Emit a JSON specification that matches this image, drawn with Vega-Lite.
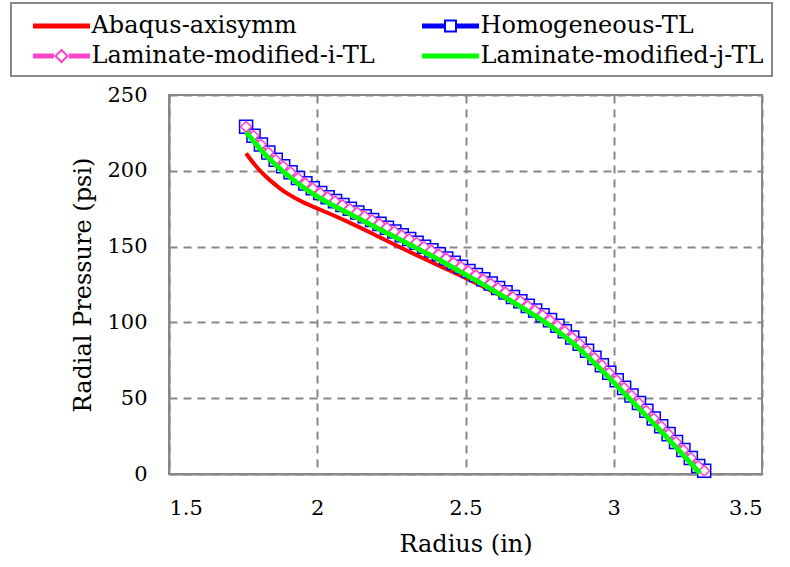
{
  "$schema": "https://vega.github.io/schema/vega-lite/v6.json",
  "width": 593,
  "height": 379,
  "autosize": {"type": "none"},
  "padding": {"left": 169, "top": 95, "right": 28, "bottom": 93},
  "view": {"stroke": "#888888", "strokeWidth": 2},
  "config": {"font": "DejaVu Serif"},
  "data": {"values": [
    {"series": "Abaqus-axisymm", "r": 1.76, "p": 211.5},
    {"series": "Abaqus-axisymm", "r": 1.78, "p": 206.3},
    {"series": "Abaqus-axisymm", "r": 1.80, "p": 201.5},
    {"series": "Abaqus-axisymm", "r": 1.825, "p": 196.6},
    {"series": "Abaqus-axisymm", "r": 1.85, "p": 192.2},
    {"series": "Abaqus-axisymm", "r": 1.875, "p": 188.3},
    {"series": "Abaqus-axisymm", "r": 1.90, "p": 184.9},
    {"series": "Abaqus-axisymm", "r": 1.925, "p": 182},
    {"series": "Abaqus-axisymm", "r": 1.95, "p": 179.5},
    {"series": "Abaqus-axisymm", "r": 2.00, "p": 175.2},
    {"series": "Abaqus-axisymm", "r": 2.05, "p": 171},
    {"series": "Abaqus-axisymm", "r": 2.10, "p": 166.6},
    {"series": "Abaqus-axisymm", "r": 2.15, "p": 162},
    {"series": "Abaqus-axisymm", "r": 2.20, "p": 157.2},
    {"series": "Abaqus-axisymm", "r": 2.25, "p": 152.4},
    {"series": "Abaqus-axisymm", "r": 2.30, "p": 147.6},
    {"series": "Abaqus-axisymm", "r": 2.35, "p": 143},
    {"series": "Abaqus-axisymm", "r": 2.40, "p": 138.4},
    {"series": "Abaqus-axisymm", "r": 2.45, "p": 133.9},
    {"series": "Abaqus-axisymm", "r": 2.50, "p": 129.3},
    {"series": "Abaqus-axisymm", "r": 2.55, "p": 124.5},
    {"series": "Abaqus-axisymm", "r": 2.60, "p": 119.5},
    {"series": "Abaqus-axisymm", "r": 2.65, "p": 114.1},
    {"series": "Abaqus-axisymm", "r": 2.70, "p": 108.3},
    {"series": "Abaqus-axisymm", "r": 2.75, "p": 102.2},
    {"series": "Abaqus-axisymm", "r": 2.80, "p": 95.5},
    {"series": "Abaqus-axisymm", "r": 2.85, "p": 87.9},
    {"series": "Abaqus-axisymm", "r": 2.90, "p": 79.4},
    {"series": "Abaqus-axisymm", "r": 2.95, "p": 70},
    {"series": "Abaqus-axisymm", "r": 3.00, "p": 60},
    {"series": "Abaqus-axisymm", "r": 3.05, "p": 50},
    {"series": "Abaqus-axisymm", "r": 3.10, "p": 39.9},
    {"series": "Abaqus-axisymm", "r": 3.15, "p": 29.7},
    {"series": "Abaqus-axisymm", "r": 3.20, "p": 19.4},
    {"series": "Abaqus-axisymm", "r": 3.25, "p": 9},
    {"series": "Abaqus-axisymm", "r": 3.29, "p": 0.2},

    {"series": "Homogeneous-TL", "r": 1.760, "p": 229},
    {"series": "Homogeneous-TL", "r": 1.785, "p": 223.1},
    {"series": "Homogeneous-TL", "r": 1.810, "p": 217.3},
    {"series": "Homogeneous-TL", "r": 1.835, "p": 212.1},
    {"series": "Homogeneous-TL", "r": 1.860, "p": 207.3},
    {"series": "Homogeneous-TL", "r": 1.885, "p": 203},
    {"series": "Homogeneous-TL", "r": 1.910, "p": 199},
    {"series": "Homogeneous-TL", "r": 1.935, "p": 195.2},
    {"series": "Homogeneous-TL", "r": 1.960, "p": 191.7},
    {"series": "Homogeneous-TL", "r": 1.985, "p": 188.5},
    {"series": "Homogeneous-TL", "r": 2.010, "p": 185.4},
    {"series": "Homogeneous-TL", "r": 2.035, "p": 182.6},
    {"series": "Homogeneous-TL", "r": 2.060, "p": 180},
    {"series": "Homogeneous-TL", "r": 2.085, "p": 177.5},
    {"series": "Homogeneous-TL", "r": 2.110, "p": 175},
    {"series": "Homogeneous-TL", "r": 2.135, "p": 172.5},
    {"series": "Homogeneous-TL", "r": 2.160, "p": 170},
    {"series": "Homogeneous-TL", "r": 2.185, "p": 167.5},
    {"series": "Homogeneous-TL", "r": 2.210, "p": 165},
    {"series": "Homogeneous-TL", "r": 2.235, "p": 162.5},
    {"series": "Homogeneous-TL", "r": 2.260, "p": 160},
    {"series": "Homogeneous-TL", "r": 2.285, "p": 157.5},
    {"series": "Homogeneous-TL", "r": 2.310, "p": 155},
    {"series": "Homogeneous-TL", "r": 2.335, "p": 152.5},
    {"series": "Homogeneous-TL", "r": 2.360, "p": 149.9},
    {"series": "Homogeneous-TL", "r": 2.385, "p": 147.5},
    {"series": "Homogeneous-TL", "r": 2.410, "p": 144.9},
    {"series": "Homogeneous-TL", "r": 2.435, "p": 142.2},
    {"series": "Homogeneous-TL", "r": 2.460, "p": 139.4},
    {"series": "Homogeneous-TL", "r": 2.485, "p": 136.7},
    {"series": "Homogeneous-TL", "r": 2.510, "p": 133.9},
    {"series": "Homogeneous-TL", "r": 2.535, "p": 131.2},
    {"series": "Homogeneous-TL", "r": 2.560, "p": 128.4},
    {"series": "Homogeneous-TL", "r": 2.585, "p": 125.6},
    {"series": "Homogeneous-TL", "r": 2.610, "p": 122.7},
    {"series": "Homogeneous-TL", "r": 2.635, "p": 119.8},
    {"series": "Homogeneous-TL", "r": 2.660, "p": 116.8},
    {"series": "Homogeneous-TL", "r": 2.685, "p": 113.9},
    {"series": "Homogeneous-TL", "r": 2.710, "p": 110.9},
    {"series": "Homogeneous-TL", "r": 2.735, "p": 107.8},
    {"series": "Homogeneous-TL", "r": 2.760, "p": 104.7},
    {"series": "Homogeneous-TL", "r": 2.785, "p": 101.5},
    {"series": "Homogeneous-TL", "r": 2.810, "p": 97.8},
    {"series": "Homogeneous-TL", "r": 2.835, "p": 94.1},
    {"series": "Homogeneous-TL", "r": 2.860, "p": 90.1},
    {"series": "Homogeneous-TL", "r": 2.885, "p": 85.9},
    {"series": "Homogeneous-TL", "r": 2.910, "p": 81.3},
    {"series": "Homogeneous-TL", "r": 2.935, "p": 76.6},
    {"series": "Homogeneous-TL", "r": 2.960, "p": 71.8},
    {"series": "Homogeneous-TL", "r": 2.985, "p": 66.8},
    {"series": "Homogeneous-TL", "r": 3.010, "p": 61.8},
    {"series": "Homogeneous-TL", "r": 3.035, "p": 56.8},
    {"series": "Homogeneous-TL", "r": 3.060, "p": 51.8},
    {"series": "Homogeneous-TL", "r": 3.085, "p": 46.8},
    {"series": "Homogeneous-TL", "r": 3.110, "p": 41.7},
    {"series": "Homogeneous-TL", "r": 3.135, "p": 36.6},
    {"series": "Homogeneous-TL", "r": 3.160, "p": 31.5},
    {"series": "Homogeneous-TL", "r": 3.185, "p": 26.3},
    {"series": "Homogeneous-TL", "r": 3.210, "p": 21.1},
    {"series": "Homogeneous-TL", "r": 3.235, "p": 15.9},
    {"series": "Homogeneous-TL", "r": 3.260, "p": 10.6},
    {"series": "Homogeneous-TL", "r": 3.285, "p": 5.3},
    {"series": "Homogeneous-TL", "r": 3.305, "p": 2.2},

    {"series": "Laminate-modified-i-TL", "r": 1.760, "p": 229},
    {"series": "Laminate-modified-i-TL", "r": 1.785, "p": 223.1},
    {"series": "Laminate-modified-i-TL", "r": 1.810, "p": 217.3},
    {"series": "Laminate-modified-i-TL", "r": 1.835, "p": 212.1},
    {"series": "Laminate-modified-i-TL", "r": 1.860, "p": 207.3},
    {"series": "Laminate-modified-i-TL", "r": 1.885, "p": 203},
    {"series": "Laminate-modified-i-TL", "r": 1.910, "p": 199},
    {"series": "Laminate-modified-i-TL", "r": 1.935, "p": 195.2},
    {"series": "Laminate-modified-i-TL", "r": 1.960, "p": 191.7},
    {"series": "Laminate-modified-i-TL", "r": 1.985, "p": 188.5},
    {"series": "Laminate-modified-i-TL", "r": 2.010, "p": 185.4},
    {"series": "Laminate-modified-i-TL", "r": 2.035, "p": 182.6},
    {"series": "Laminate-modified-i-TL", "r": 2.060, "p": 180},
    {"series": "Laminate-modified-i-TL", "r": 2.085, "p": 177.5},
    {"series": "Laminate-modified-i-TL", "r": 2.110, "p": 175},
    {"series": "Laminate-modified-i-TL", "r": 2.135, "p": 172.5},
    {"series": "Laminate-modified-i-TL", "r": 2.160, "p": 170},
    {"series": "Laminate-modified-i-TL", "r": 2.185, "p": 167.5},
    {"series": "Laminate-modified-i-TL", "r": 2.210, "p": 165},
    {"series": "Laminate-modified-i-TL", "r": 2.235, "p": 162.5},
    {"series": "Laminate-modified-i-TL", "r": 2.260, "p": 160},
    {"series": "Laminate-modified-i-TL", "r": 2.285, "p": 157.5},
    {"series": "Laminate-modified-i-TL", "r": 2.310, "p": 155},
    {"series": "Laminate-modified-i-TL", "r": 2.335, "p": 152.5},
    {"series": "Laminate-modified-i-TL", "r": 2.360, "p": 149.9},
    {"series": "Laminate-modified-i-TL", "r": 2.385, "p": 147.5},
    {"series": "Laminate-modified-i-TL", "r": 2.410, "p": 144.9},
    {"series": "Laminate-modified-i-TL", "r": 2.435, "p": 142.2},
    {"series": "Laminate-modified-i-TL", "r": 2.460, "p": 139.4},
    {"series": "Laminate-modified-i-TL", "r": 2.485, "p": 136.7},
    {"series": "Laminate-modified-i-TL", "r": 2.510, "p": 133.9},
    {"series": "Laminate-modified-i-TL", "r": 2.535, "p": 131.2},
    {"series": "Laminate-modified-i-TL", "r": 2.560, "p": 128.4},
    {"series": "Laminate-modified-i-TL", "r": 2.585, "p": 125.6},
    {"series": "Laminate-modified-i-TL", "r": 2.610, "p": 122.7},
    {"series": "Laminate-modified-i-TL", "r": 2.635, "p": 119.8},
    {"series": "Laminate-modified-i-TL", "r": 2.660, "p": 116.8},
    {"series": "Laminate-modified-i-TL", "r": 2.685, "p": 113.9},
    {"series": "Laminate-modified-i-TL", "r": 2.710, "p": 110.9},
    {"series": "Laminate-modified-i-TL", "r": 2.735, "p": 107.8},
    {"series": "Laminate-modified-i-TL", "r": 2.760, "p": 104.7},
    {"series": "Laminate-modified-i-TL", "r": 2.785, "p": 101.5},
    {"series": "Laminate-modified-i-TL", "r": 2.810, "p": 97.8},
    {"series": "Laminate-modified-i-TL", "r": 2.835, "p": 94.1},
    {"series": "Laminate-modified-i-TL", "r": 2.860, "p": 90.1},
    {"series": "Laminate-modified-i-TL", "r": 2.885, "p": 85.9},
    {"series": "Laminate-modified-i-TL", "r": 2.910, "p": 81.3},
    {"series": "Laminate-modified-i-TL", "r": 2.935, "p": 76.6},
    {"series": "Laminate-modified-i-TL", "r": 2.960, "p": 71.8},
    {"series": "Laminate-modified-i-TL", "r": 2.985, "p": 66.8},
    {"series": "Laminate-modified-i-TL", "r": 3.010, "p": 61.8},
    {"series": "Laminate-modified-i-TL", "r": 3.035, "p": 56.8},
    {"series": "Laminate-modified-i-TL", "r": 3.060, "p": 51.8},
    {"series": "Laminate-modified-i-TL", "r": 3.085, "p": 46.8},
    {"series": "Laminate-modified-i-TL", "r": 3.110, "p": 41.7},
    {"series": "Laminate-modified-i-TL", "r": 3.135, "p": 36.6},
    {"series": "Laminate-modified-i-TL", "r": 3.160, "p": 31.5},
    {"series": "Laminate-modified-i-TL", "r": 3.185, "p": 26.3},
    {"series": "Laminate-modified-i-TL", "r": 3.210, "p": 21.1},
    {"series": "Laminate-modified-i-TL", "r": 3.235, "p": 15.9},
    {"series": "Laminate-modified-i-TL", "r": 3.260, "p": 10.6},
    {"series": "Laminate-modified-i-TL", "r": 3.285, "p": 5.3},
    {"series": "Laminate-modified-i-TL", "r": 3.305, "p": 2.2},

    {"series": "Laminate-modified-j-TL", "r": 1.760, "p": 225.5},
    {"series": "Laminate-modified-j-TL", "r": 1.785, "p": 219.6},
    {"series": "Laminate-modified-j-TL", "r": 1.810, "p": 213.8},
    {"series": "Laminate-modified-j-TL", "r": 1.835, "p": 208.6},
    {"series": "Laminate-modified-j-TL", "r": 1.860, "p": 203.8},
    {"series": "Laminate-modified-j-TL", "r": 1.885, "p": 199.5},
    {"series": "Laminate-modified-j-TL", "r": 1.910, "p": 195.5},
    {"series": "Laminate-modified-j-TL", "r": 1.935, "p": 191.7},
    {"series": "Laminate-modified-j-TL", "r": 1.960, "p": 188.2},
    {"series": "Laminate-modified-j-TL", "r": 1.985, "p": 185},
    {"series": "Laminate-modified-j-TL", "r": 2.010, "p": 181.9},
    {"series": "Laminate-modified-j-TL", "r": 2.035, "p": 179.1},
    {"series": "Laminate-modified-j-TL", "r": 2.060, "p": 176.5},
    {"series": "Laminate-modified-j-TL", "r": 2.085, "p": 174},
    {"series": "Laminate-modified-j-TL", "r": 2.110, "p": 171.5},
    {"series": "Laminate-modified-j-TL", "r": 2.135, "p": 169},
    {"series": "Laminate-modified-j-TL", "r": 2.160, "p": 166.5},
    {"series": "Laminate-modified-j-TL", "r": 2.185, "p": 164},
    {"series": "Laminate-modified-j-TL", "r": 2.210, "p": 161.5},
    {"series": "Laminate-modified-j-TL", "r": 2.235, "p": 159},
    {"series": "Laminate-modified-j-TL", "r": 2.260, "p": 156.5},
    {"series": "Laminate-modified-j-TL", "r": 2.285, "p": 154},
    {"series": "Laminate-modified-j-TL", "r": 2.310, "p": 151.5},
    {"series": "Laminate-modified-j-TL", "r": 2.335, "p": 149},
    {"series": "Laminate-modified-j-TL", "r": 2.360, "p": 146.4},
    {"series": "Laminate-modified-j-TL", "r": 2.385, "p": 144},
    {"series": "Laminate-modified-j-TL", "r": 2.410, "p": 141.4},
    {"series": "Laminate-modified-j-TL", "r": 2.435, "p": 138.7},
    {"series": "Laminate-modified-j-TL", "r": 2.460, "p": 135.9},
    {"series": "Laminate-modified-j-TL", "r": 2.485, "p": 133.2},
    {"series": "Laminate-modified-j-TL", "r": 2.510, "p": 130.4},
    {"series": "Laminate-modified-j-TL", "r": 2.535, "p": 127.7},
    {"series": "Laminate-modified-j-TL", "r": 2.560, "p": 124.9},
    {"series": "Laminate-modified-j-TL", "r": 2.585, "p": 122.1},
    {"series": "Laminate-modified-j-TL", "r": 2.610, "p": 119.2},
    {"series": "Laminate-modified-j-TL", "r": 2.635, "p": 116.3},
    {"series": "Laminate-modified-j-TL", "r": 2.660, "p": 113.3},
    {"series": "Laminate-modified-j-TL", "r": 2.685, "p": 110.4},
    {"series": "Laminate-modified-j-TL", "r": 2.710, "p": 107.4},
    {"series": "Laminate-modified-j-TL", "r": 2.735, "p": 104.3},
    {"series": "Laminate-modified-j-TL", "r": 2.760, "p": 101.2},
    {"series": "Laminate-modified-j-TL", "r": 2.785, "p": 98},
    {"series": "Laminate-modified-j-TL", "r": 2.810, "p": 94.3},
    {"series": "Laminate-modified-j-TL", "r": 2.835, "p": 90.6},
    {"series": "Laminate-modified-j-TL", "r": 2.860, "p": 86.6},
    {"series": "Laminate-modified-j-TL", "r": 2.885, "p": 82.4},
    {"series": "Laminate-modified-j-TL", "r": 2.910, "p": 77.8},
    {"series": "Laminate-modified-j-TL", "r": 2.935, "p": 73.1},
    {"series": "Laminate-modified-j-TL", "r": 2.960, "p": 68.3},
    {"series": "Laminate-modified-j-TL", "r": 2.985, "p": 63.3},
    {"series": "Laminate-modified-j-TL", "r": 3.010, "p": 58.3},
    {"series": "Laminate-modified-j-TL", "r": 3.035, "p": 53.3},
    {"series": "Laminate-modified-j-TL", "r": 3.060, "p": 48.3},
    {"series": "Laminate-modified-j-TL", "r": 3.085, "p": 43.3},
    {"series": "Laminate-modified-j-TL", "r": 3.110, "p": 38.2},
    {"series": "Laminate-modified-j-TL", "r": 3.135, "p": 33.1},
    {"series": "Laminate-modified-j-TL", "r": 3.160, "p": 28},
    {"series": "Laminate-modified-j-TL", "r": 3.185, "p": 22.8},
    {"series": "Laminate-modified-j-TL", "r": 3.210, "p": 17.6},
    {"series": "Laminate-modified-j-TL", "r": 3.235, "p": 12.4},
    {"series": "Laminate-modified-j-TL", "r": 3.260, "p": 7.1},
    {"series": "Laminate-modified-j-TL", "r": 3.290, "p": 0.5}
  ]},
  "encoding": {
    "x": {"field": "r", "type": "quantitative", "title": "Radius (in)",
      "scale": {"domain": [1.5, 3.5], "nice": false, "zero": false},
      "axis": {"values": [1.5, 2, 2.5, 3, 3.5], "format": "~g", "labelPadding": 23, "titlePadding": 14,
        "domainColor": "#888888", "domainWidth": 2, "ticks": false,
        "grid": true, "gridColor": "#888888", "gridWidth": 2, "gridDash": [8, 6],
        "labelFont": "DejaVu Serif", "labelFontSize": 21, "labelColor": "black",
        "titleFont": "DejaVu Serif", "titleFontSize": 24, "titleFontWeight": "normal", "titleColor": "black"}},
    "y": {"field": "p", "type": "quantitative", "title": "Radial Pressure (psi)",
      "scale": {"domain": [0, 250], "nice": false},
      "axis": {"values": [0, 50, 100, 150, 200, 250], "labelPadding": 22, "titlePadding": 11,
        "domainColor": "#888888", "domainWidth": 2, "ticks": false,
        "grid": true, "gridColor": "#888888", "gridWidth": 2, "gridDash": [8, 6],
        "labelFont": "DejaVu Serif", "labelFontSize": 21, "labelColor": "black",
        "titleFont": "DejaVu Serif", "titleFontSize": 24, "titleFontWeight": "normal", "titleColor": "black"}}
  },
  "layer": [
    {
      "transform": [{"filter": "datum.series === 'Abaqus-axisymm'"}],
      "mark": {"type": "line", "strokeWidth": 4, "interpolate": "monotone"},
      "encoding": {
        "color": {"field": "series", "type": "nominal",
          "scale": {"domain": ["Abaqus-axisymm", "Homogeneous-TL", "Laminate-modified-i-TL", "Laminate-modified-j-TL"],
                    "range": ["#ff0000", "#0000ff", "#ff44cc", "#00ff00"]},
          "legend": {
            "title": null, "orient": "none", "legendX": -158, "legendY": -92,
            "direction": "horizontal",
            "columns": 2, "columnPadding": 33, "rowPadding": 3, "padding": 8,
            "strokeColor": "#888888", "fillColor": "white",
            "labelFont": "DejaVu Serif", "labelFontSize": 24, "labelColor": "black", "labelLimit": 400,
            "symbolSize": 900, "symbolOffset": 27.5, "labelOffset": 15,
            "symbolType": "M-1.9,-0.17H1.9V0.17H-1.9Z",
            "encode": {
              "legend": {"update": {"strokeWidth": {"value": 2}}},
              "labels": {"update": {"font": {"value": "DejaVu Serif"}}},
              "symbols": {"update": {
              "shape": {"signal": "datum.value === 'Homogeneous-TL' ? 'M-1.9,-0.17H-0.43V0.17H-1.9Z M0.43,-0.17H1.9V0.17H0.43Z M-0.43,-0.43H0.43V0.43H-0.43Z M-0.3,-0.3V0.3H0.3V-0.3Z' : datum.value === 'Laminate-modified-i-TL' ? 'M-1.9,-0.17H-0.5V0.17H-1.9Z M0.5,-0.17H1.9V0.17H0.5Z M-0.5,0L0,-0.5L0.5,0L0,0.5Z M-0.3,0L0,0.3L0.3,0L0,-0.3Z' : 'M-1.9,-0.17H1.9V0.17H-1.9Z'"},
              "fill": {"signal": "scale('color', datum.value)"},
              "stroke": {"value": "transparent"},
              "strokeWidth": {"value": 0},
              "opacity": {"value": 1},
              "size": {"value": 900}
            }}}
          }}
      }
    },
    {
      "transform": [{"filter": "datum.series === 'Homogeneous-TL'"}],
      "mark": {"type": "line", "strokeWidth": 2, "interpolate": "monotone"},
      "encoding": {"color": {"field": "series", "type": "nominal"}}
    },
    {
      "transform": [{"filter": "datum.series === 'Homogeneous-TL'"}],
      "mark": {"type": "point", "shape": "square", "size": 170, "filled": true, "fill": "#eeeef6", "stroke": "#0000ff", "strokeWidth": 1.5, "opacity": 1},
      "encoding": {}
    },
    {
      "transform": [{"filter": "datum.series === 'Laminate-modified-i-TL'"}],
      "mark": {"type": "line", "strokeWidth": 2.5, "interpolate": "monotone"},
      "encoding": {"color": {"field": "series", "type": "nominal"}}
    },
    {
      "transform": [{"filter": "datum.series === 'Laminate-modified-i-TL'"}],
      "mark": {"type": "point", "shape": "diamond", "size": 110, "filled": true, "fill": "white", "stroke": "#ff44cc", "strokeWidth": 1.5, "opacity": 1},
      "encoding": {}
    },
    {
      "transform": [{"filter": "datum.series === 'Laminate-modified-j-TL'"}],
      "mark": {"type": "line", "strokeWidth": 5, "interpolate": "monotone"},
      "encoding": {"color": {"field": "series", "type": "nominal"}}
    }
  ]
}
